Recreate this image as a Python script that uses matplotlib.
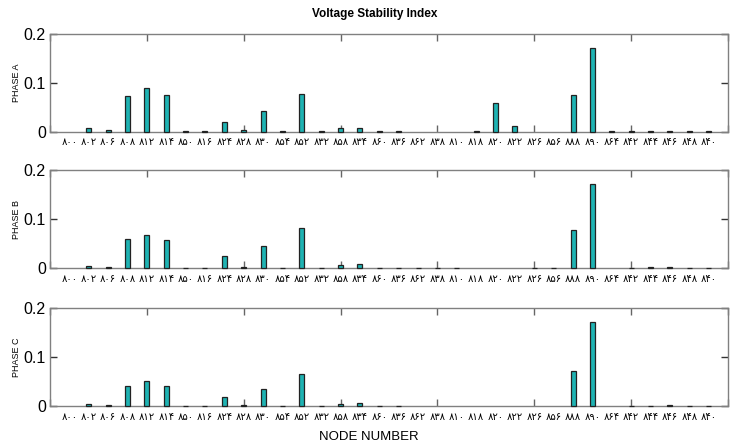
import numpy as np
import matplotlib
matplotlib.use("Agg")
import matplotlib.pyplot as plt

nan = np.nan
nodes = ["۸۰۰", "۸۰۲", "۸۰۶", "۸۰۸", "۸۱۲", "۸۱۴", "۸۵۰", "۸۱۶", "۸۲۴", "۸۲۸",
         "۸۳۰", "۸۵۴", "۸۵۲", "۸۳۲", "۸۵۸", "۸۳۴", "۸۶۰", "۸۳۶", "۸۶۲", "۸۳۸",
         "۸۱۰", "۸۱۸", "۸۲۰", "۸۲۲", "۸۲۶", "۸۵۶", "۸۸۸", "۸۹۰", "۸۶۴", "۸۴۲",
         "۸۴۴", "۸۴۶", "۸۴۸", "۸۴۰"]

phase_a = [nan, 0.007, 0.004, 0.073, 0.090, 0.074, 0.0005, 0.0005, 0.020, 0.003,
           0.043, 0.0005, 0.076, 0.0005, 0.007, 0.008, 0.0005, 0.0005, nan, nan,
           nan, 0.002, 0.058, 0.012, nan, nan, 0.074, 0.171, 0.0005, 0.0005,
           0.0005, 0.002, 0.0005, 0.0005]
phase_b = [nan, 0.005, 0.003, 0.059, 0.068, 0.058, 0.0005, 0.0005, 0.025, 0.003,
           0.045, 0.0005, 0.083, 0.0005, 0.007, 0.009, 0.0005, 0.0005, 0.0005, 0.0005,
           0.0005, nan, nan, nan, 0.0005, 0.0005, 0.078, 0.172, nan, 0.0005,
           0.002, 0.002, 0.0005, 0.0005]
phase_c = [nan, 0.004, 0.002, 0.041, 0.051, 0.041, 0.001, 0.001, 0.018, 0.002,
           0.035, 0.0005, 0.065, 0.0005, 0.005, 0.006, 0.0005, 0.0005, nan, nan,
           nan, nan, nan, nan, nan, nan, 0.071, 0.172, nan, 0.0005,
           0.0005, 0.002, 0.0005, 0.0005]

series = [("PHASE A", phase_a), ("PHASE B", phase_b), ("PHASE C", phase_c)]
yticks = [0, 0.1, 0.2]
yticklabels = ["0", "0.1", "0.2"]

plt.rcParams['font.family'] = ['Liberation Sans', 'DejaVu Sans']

fig = plt.figure(figsize=(7.36, 4.48), dpi=100)
W, H = 736, 448
left, right = 50, 728
tops = [33.8, 170.0, 308.3]
bottoms = [131.7, 268.3, 406.0]

x = np.arange(1, len(nodes) + 1)
spine_col = '#808080'
for (name, vals), t, b in zip(series, tops, bottoms):
    ax = fig.add_axes([left / W, 1 - b / H, (right - left) / W, (b - t) / H])
    ax.xaxis.remove_overlapping_locs = False
    ax.bar(x, vals, width=0.26, color='#1fb3b3', edgecolor='#222222',
           linewidth=0.9, zorder=3, clip_on=False)
    ax.set_xlim(0, 35)
    ax.set_ylim(0, 0.2)
    ax.set_xticks(np.arange(0, 36, 5))
    ax.set_xticklabels([])
    ax.set_xticks(x, minor=True)
    ax.set_xticklabels(nodes, minor=True, fontsize=7.2,
                       family=['DejaVu Sans'])
    ax.tick_params(axis='x', which='minor', length=0, pad=4)
    ax.tick_params(axis='x', which='major', direction='in', length=5,
                   top=True, bottom=True, color='#666666', width=1)
    ax.set_yticks(yticks)
    ax.set_yticklabels(yticklabels, fontsize=11.5)
    ax.tick_params(axis='y', direction='in', length=5, left=True, right=True,
                   color='#333333', width=1, pad=3)
    for s in ax.spines.values():
        s.set_color(spine_col)
        s.set_linewidth(1.0)
    ax.spines['bottom'].set_zorder(2)
    ax.set_ylabel(name, fontsize=6.5)
    ax.yaxis.set_label_coords(-0.043, 0.5)

fig.text(375 / W, 1 - 14 / H, "Voltage Stability Index", ha='center',
         va='center', fontsize=8.5, fontweight='bold')
fig.text(369 / W, 1 - 437 / H, "NODE NUMBER", ha='center', va='center',
         fontsize=9.5)

fig.savefig("out.png", dpi=100)
